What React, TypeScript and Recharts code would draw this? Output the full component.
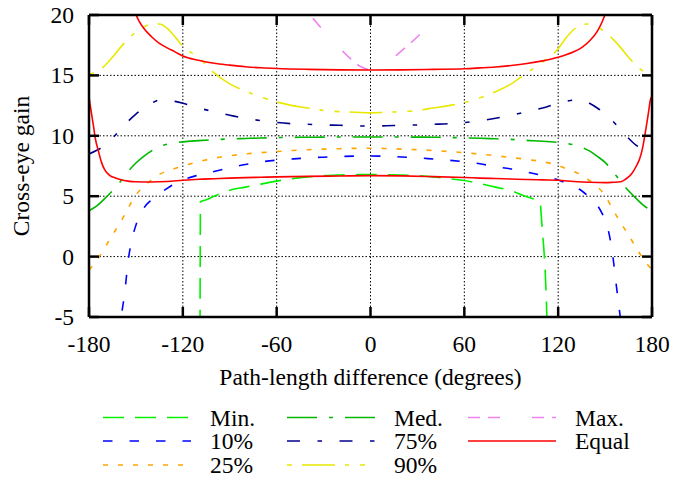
import { LineChart, Line, XAxis, YAxis, CartesianGrid } from 'recharts'

// ── Data ───────────────────────────────────────────────────────────────────

const X_TICKS = [-180, -120, -60, 0, 60, 120, 180]
const Y_TICKS = [-5, 0, 5, 10, 15, 20]

// x grid shared by the smooth percentile curves
const GRID_X = [
  -180, -175, -170, -165, -160, -155, -150, -145, -140, -135, -130, -125, -120,
  -110, -100, -90, -80, -70, -60, -50, -40, -30, -20, -10, 0,
  10, 20, 30, 40, 50, 60, 70, 80, 90, 100, 110,
  120, 125, 130, 135, 140, 145, 150, 155, 160, 165, 170, 175, 180,
]

const P90_Y = [
  15.1, 15.3, 15.8, 16.5, 17.3, 18.0, 18.6, 19.0, 19.25, 19.25, 18.9, 18.2, 17.4,
  16.5, 15.2, 14.3, 13.7, 13.2, 12.8, 12.5, 12.3, 12.1, 12.0, 11.95, 11.9,
  11.95, 12.0, 12.1, 12.3, 12.5, 12.75, 13.15, 13.65, 14.3, 15.2, 16.1,
  17.2, 18.1, 18.8, 19.2, 19.25, 19.0, 18.6, 18.0, 17.3, 16.5, 15.8, 15.3, 15.1,
]

const P75_Y = [
  8.5, 8.8, 9.2, 9.8, 10.5, 11.2, 11.8, 12.3, 12.7, 12.95, 12.95, 12.85, 12.7,
  12.3, 12.0, 11.7, 11.45, 11.25, 11.1, 11.0, 10.95, 10.9, 10.87, 10.83, 10.8,
  10.83, 10.87, 10.9, 10.95, 11.0, 11.1, 11.25, 11.45, 11.7, 12.0, 12.3,
  12.7, 12.85, 12.95, 12.95, 12.7, 12.3, 11.8, 11.2, 10.5, 9.8, 9.2, 8.8, 8.5,
]

const MED_Y = [
  3.8, 4.2, 4.8, 5.45, 6.2, 7.05, 7.75, 8.3, 8.75, 9.1, 9.3, 9.42, 9.5,
  9.6, 9.68, 9.74, 9.78, 9.82, 9.85, 9.87, 9.88, 9.89, 9.9, 9.9, 9.9,
  9.9, 9.9, 9.89, 9.88, 9.86, 9.83, 9.8, 9.75, 9.7, 9.62, 9.55,
  9.45, 9.38, 9.25, 9.05, 8.75, 8.3, 7.8, 7.05, 6.2, 5.45, 4.8, 4.2, 3.8,
]

const P25_Y = [
  -1.1, -0.3, 0.7, 1.8, 2.8, 4.0, 5.1, 5.8, 6.35, 6.8, 7.1, 7.3, 7.5,
  7.85, 8.15, 8.35, 8.5, 8.6, 8.7, 8.78, 8.85, 8.9, 8.93, 8.96, 8.97,
  8.95, 8.9, 8.85, 8.78, 8.7, 8.6, 8.48, 8.35, 8.2, 8.05, 7.85,
  7.55, 7.3, 7.05, 6.75, 6.3, 5.8, 5.05, 3.9, 2.8, 1.8, 0.7, -0.3, -1.1,
]

const P10_X = [
  -165, -160, -157, -155, -152, -150, -145, -140, -135, -130, -125, -120,
  -110, -100, -90, -80, -70, -60, -50, -40, -30, -20, -10, 0,
  10, 20, 30, 40, 50, 60, 70, 80, 90, 100, 110,
  120, 125, 130, 135, 140, 145, 150, 152, 155, 157, 160, 165,
]
const P10_Y = [
  -11, -5.5, -2.8, -0.4, 1.7, 2.6, 4.0, 4.7, 5.2, 5.65, 6.05, 6.35,
  6.75, 7.05, 7.35, 7.62, 7.84, 7.98, 8.08, 8.17, 8.23, 8.28, 8.32, 8.33,
  8.3, 8.25, 8.18, 8.08, 7.98, 7.85, 7.68, 7.45, 7.25, 7.0, 6.7,
  6.34, 6.1, 5.8, 5.45, 4.9, 4.25, 3.0, 2.2, 0.0, -2.2, -5.3, -11,
]

const MIN_X = [
  -109.3, -108.7, -105, -100, -90, -80, -70, -60, -50, -40, -30, -20, -10, 0,
  10, 20, 30, 40, 50, 60, 70, 80, 90, 100, 105, 108.4, 109.4, 113, 114,
]
const MIN_Y = [
  -30, 4.55, 4.7, 5.0, 5.5, 5.75, 6.0, 6.25, 6.45, 6.6, 6.7, 6.75, 6.78, 6.8,
  6.78, 6.75, 6.7, 6.6, 6.45, 6.3, 6.05, 5.75, 5.45, 4.95, 4.75, 4.55, 3.0, -6, -30,
]

const MAX_X = [-45, -40, -35, -30, -25, -20, -15, -10, -5, 0, 5, 10, 15, 20, 25, 30, 35, 40, 45, 50]
const MAX_Y = [21.0, 20.2, 19.45, 18.7, 18.0, 17.3, 16.65, 16.05, 15.65, 15.45, 15.65, 16.0, 16.5, 17.05, 17.6, 18.2, 18.85, 19.6, 20.35, 21.1]

// "Equal" has two branches
const EQ_LO_X = [
  -180, -179, -178, -177, -176, -174, -172, -170, -167, -163, -160, -155, -150,
  -140, -130, -120, -110, -100, -90, -80, -70, -60, -40, -20, 0,
  20, 40, 60, 70, 80, 90, 100, 110, 120, 130, 140, 150, 155, 160,
  163, 167, 170, 172, 174, 176, 177, 178, 179, 180,
]
const EQ_LO_Y = [
  13.2, 12.35, 11.5, 10.7, 9.8, 8.75, 7.8, 7.2, 6.75, 6.5, 6.38, 6.25, 6.2,
  6.18, 6.22, 6.32, 6.4, 6.45, 6.5, 6.54, 6.57, 6.6, 6.64, 6.67, 6.7,
  6.68, 6.62, 6.55, 6.5, 6.46, 6.42, 6.38, 6.35, 6.32, 6.22, 6.15, 6.12, 6.15, 6.2,
  6.4, 6.85, 7.5, 8.05, 9.0, 10.5, 11.3, 12.15, 13.0, 13.3,
]

const EQ_HI_X = [
  -152, -150, -148, -145, -140, -135, -130, -125, -120, -110, -100, -90, -80, -70, -60,
  -40, -20, 0, 20, 40, 60, 70, 80, 90, 100, 110, 120, 125, 130, 135, 140, 145, 148, 150, 152,
]
const EQ_HI_Y = [
  20.8, 20.05, 19.5, 18.9, 18.2, 17.65, 17.28, 16.95, 16.6, 16.25, 16.0, 15.85, 15.72, 15.63, 15.57,
  15.5, 15.46, 15.45, 15.46, 15.5, 15.55, 15.62, 15.7, 15.82, 15.98, 16.2, 16.5, 16.7, 16.95, 17.3, 17.85, 18.65, 19.4, 20.05, 20.8,
]

// ── Layout ─────────────────────────────────────────────────────────────────

const W = 674
const H = 477
// plot box is 89..652 x 15..317; each axis takes 1px
const MARGIN = { top: 14, left: 88, right: 21, bottom: 159 }
const PLOT = { left: 89, right: 652, top: 15, bottom: 317 }
const FONT = '"Liberation Serif", "Times New Roman", serif'
const FS = 23.5
const TICK_LEN = 10
const FRAME = { stroke: '#000', strokeWidth: 2.5 }

type Pt = { x: number; y: number }
const zip = (xs: number[], ys: number[]): Pt[] => xs.map((x, i) => ({ x, y: ys[i] }))

type Series = { key: string; name: string; color: string; dash?: string; dashOffset?: number; data: Pt[] }

// gnuplot plotting order, which is also the column-major legend order
const SERIES: Series[] = [
  { key: 'min', name: 'Min.', color: '#00f000', dash: '21 11', data: zip(MIN_X, MIN_Y) },
  { key: 'p10', name: '10%', color: '#0000ff', dash: '9.5 17', data: zip(P10_X, P10_Y) },
  { key: 'p25', name: '25%', color: '#ffa500', dash: '5 10', data: zip(GRID_X, P25_Y) },
  { key: 'med', name: 'Med.', color: '#00b800', dash: '30 12 4 12', data: zip(GRID_X, MED_Y) },
  { key: 'p75', name: '75%', color: '#00008c', dash: '13 17.5 4.5 17.5', data: zip(GRID_X, P75_Y) },
  { key: 'p90', name: '90%', color: '#e8e800', dash: '33 10 4 11 5 10', dashOffset: 58, data: zip(GRID_X, P90_Y) },
  { key: 'max', name: 'Max.', color: '#ee82ee', dash: '12 8 12 32', data: zip(MAX_X, MAX_Y) },
  { key: 'equal', name: 'Equal', color: '#ff0000', data: zip(EQ_LO_X, EQ_LO_Y) },
]
const EQUAL_HI = zip(EQ_HI_X, EQ_HI_Y)

const LEGEND_COL_X = [103, 287, 468]
const LEGEND_ROW_Y = [417.5, 441, 465]
const LEGEND_LINE = 88
const LEGEND_TEXT_DX = 107

// ── Axis ticks (drawn inward, gnuplot style) ───────────────────────────────

const txt = { fontFamily: FONT, fontSize: FS, fill: '#000' }

function BottomTick({ x, y, payload }: any) {
  return (
    <g>
      <line x1={x} y1={y} x2={x} y2={y - TICK_LEN} {...FRAME} />
      <text x={x} y={y + 35} textAnchor="middle" {...txt}>{payload.value}</text>
    </g>
  )
}

function TopTick({ x, y }: any) {
  return <line x1={x} y1={y} x2={x} y2={y + TICK_LEN} {...FRAME} />
}

function LeftTick({ x, y, payload }: any) {
  return (
    <g>
      <line x1={x} y1={y} x2={x + TICK_LEN} y2={y} {...FRAME} />
      <text x={x - 15} y={y + 8} textAnchor="end" {...txt}>{payload.value}</text>
    </g>
  )
}

function RightTick({ x, y }: any) {
  return <line x1={x} y1={y} x2={x - TICK_LEN} y2={y} {...FRAME} />
}

// ── Chart ──────────────────────────────────────────────────────────────────

export default function App() {
  const cx = (PLOT.left + PLOT.right) / 2
  const cy = (PLOT.top + PLOT.bottom) / 2

  return (
    <div style={{ position: 'absolute', left: 0, top: 0, width: W, height: H, background: '#fff' }}>
      <LineChart width={W} height={H} margin={MARGIN}>
        <CartesianGrid stroke="#000" strokeWidth={1} strokeDasharray="1.5 2" />
        <XAxis
          type="number" dataKey="x" domain={[-180, 180]} ticks={X_TICKS} interval={0}
          allowDataOverflow height={1} tickSize={0} tickMargin={0} tickLine={false}
          axisLine={FRAME} tick={<BottomTick />}
        />
        <XAxis
          xAxisId="top" orientation="top" type="number" dataKey="x" domain={[-180, 180]}
          ticks={X_TICKS} interval={0} allowDataOverflow height={1} tickSize={0} tickMargin={0}
          tickLine={false} axisLine={FRAME} tick={<TopTick />}
        />
        <YAxis
          type="number" domain={[-5, 20]} ticks={Y_TICKS} interval={0} allowDataOverflow
          width={1} tickSize={0} tickMargin={0} tickLine={false} axisLine={FRAME} tick={<LeftTick />}
        />
        <YAxis
          yAxisId="right" orientation="right" type="number" domain={[-5, 20]} ticks={Y_TICKS}
          interval={0} allowDataOverflow width={1} tickSize={0} tickMargin={0} tickLine={false}
          axisLine={FRAME} tick={<RightTick />}
        />
        {SERIES.map(s => (
          <Line
            key={s.key}
            data={s.data}
            dataKey="y"
            type="monotone"
            stroke={s.color}
            strokeWidth={1.6}
            strokeDasharray={s.dash}
            strokeDashoffset={s.dashOffset}
            dot={false}
            activeDot={false}
            isAnimationActive={false}
          />
        ))}
        <Line
          data={EQUAL_HI}
          dataKey="y"
          type="monotone"
          stroke="#ff0000"
          strokeWidth={1.6}
          dot={false}
          activeDot={false}
          legendType="none"
          isAnimationActive={false}
        />
      </LineChart>

      <svg width={W} height={H} style={{ position: 'absolute', left: 0, top: 0, pointerEvents: 'none' }}>
        <text x={cx} y={385} textAnchor="middle" {...txt}>Path-length difference (degrees)</text>
        <text x={28.5} y={cy} textAnchor="middle" transform={`rotate(-90 28.5 ${cy})`} {...txt}>
          Cross-eye gain
        </text>
        {SERIES.map((s, i) => {
          const x0 = LEGEND_COL_X[Math.floor(i / 3)]
          const y0 = LEGEND_ROW_Y[i % 3]
          return (
            <g key={s.key}>
              <line
                x1={x0} y1={y0} x2={x0 + LEGEND_LINE} y2={y0}
                stroke={s.color} strokeWidth={1.6}
                strokeDasharray={s.dash} strokeDashoffset={s.dashOffset}
              />
              <text x={x0 + LEGEND_TEXT_DX} y={y0 + 8} {...txt}>{s.name}</text>
            </g>
          )
        })}
      </svg>
    </div>
  )
}
